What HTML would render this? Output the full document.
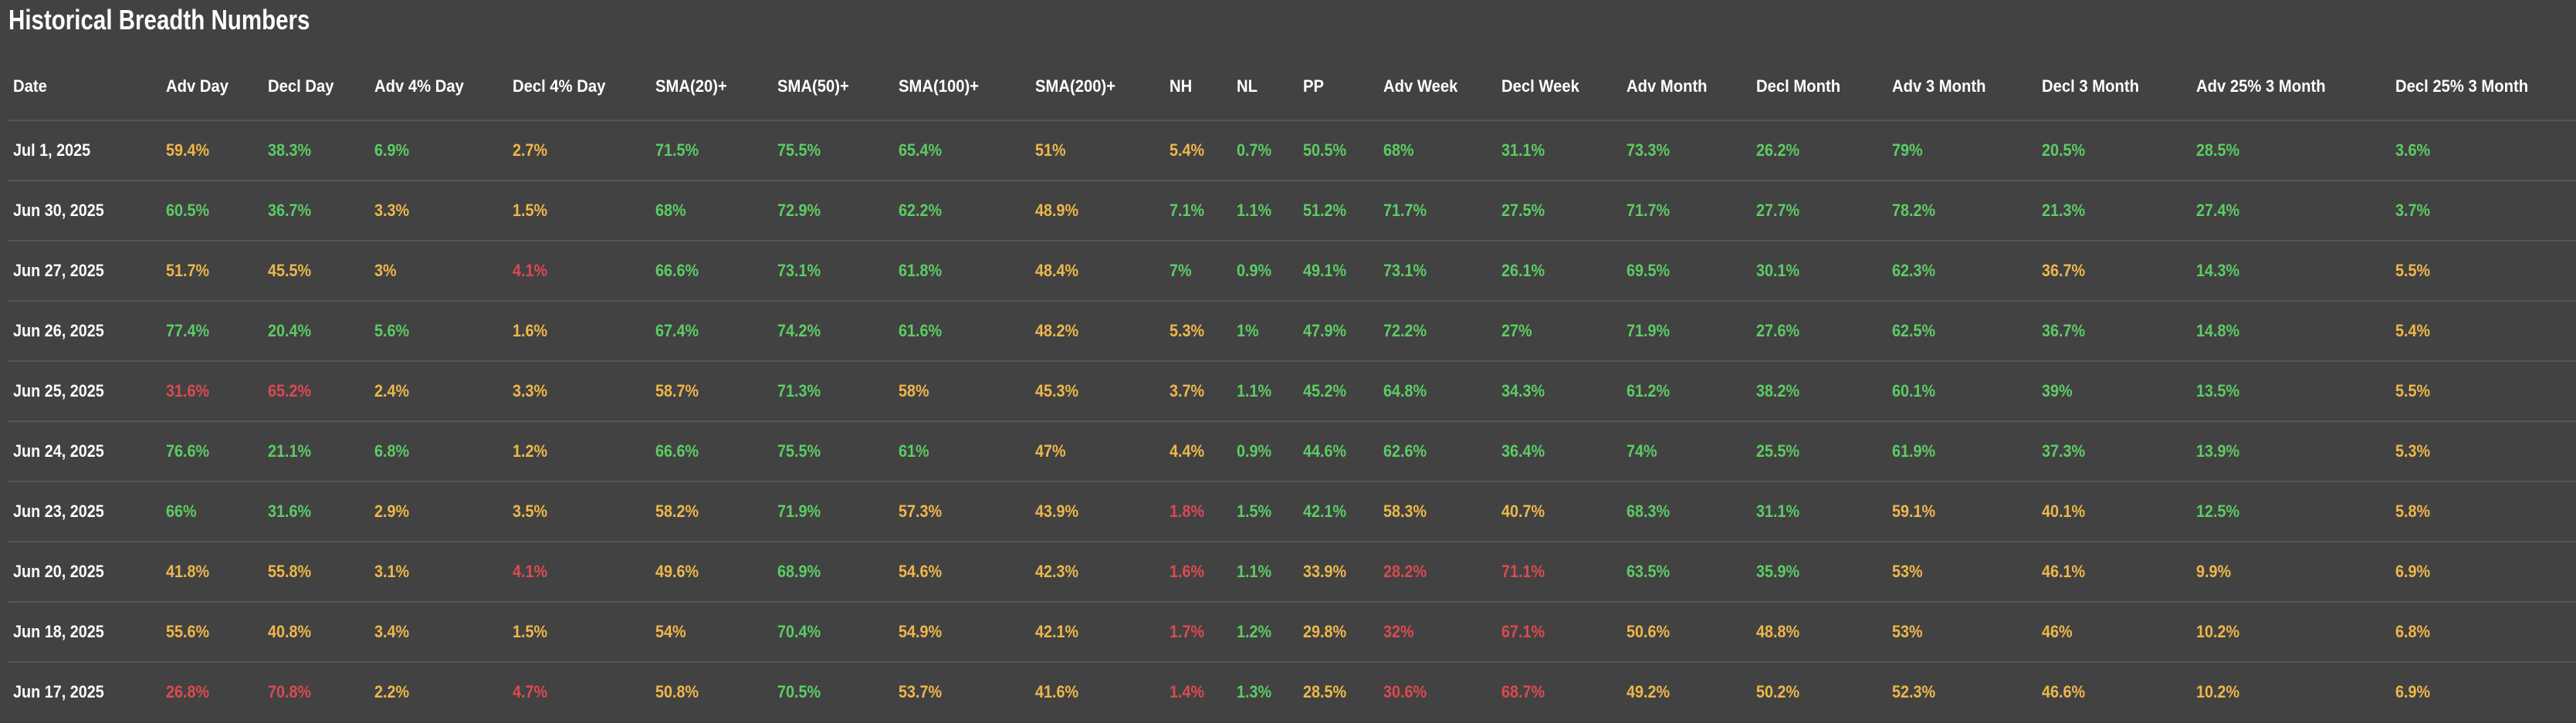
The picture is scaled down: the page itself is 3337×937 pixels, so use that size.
<!DOCTYPE html>
<html><head><meta charset="utf-8"><style>
body{margin:0;width:3337px;height:937px;background:#424242;overflow:hidden;font-family:"Liberation Sans Narrow","Liberation Sans",sans-serif;position:relative}
#title{position:absolute;left:11px;top:4px;font-size:36px;font-weight:bold;color:#fff;line-height:44px;transform:scaleX(0.82);transform-origin:left center;white-space:nowrap}
.h{position:absolute;top:99px;font-size:22px;font-weight:bold;color:#fff;line-height:26px;white-space:nowrap;transform:scaleX(0.92);transform-origin:left center}
.c{position:absolute;font-size:22px;font-weight:bold;line-height:26px;white-space:nowrap;transform:scaleX(0.9);transform-origin:left center}
.sep{position:absolute;left:10px;right:0;height:2px;background:#555}
</style></head><body>
<div id="title">Historical Breadth Numbers</div>
<div id="tbl"></div>
<script>
const headers=["Date","Adv Day","Decl Day","Adv 4% Day","Decl 4% Day","SMA(20)+","SMA(50)+","SMA(100)+","SMA(200)+","NH","NL","PP","Adv Week","Decl Week","Adv Month","Decl Month","Adv 3 Month","Decl 3 Month","Adv 25% 3 Month","Decl 25% 3 Month"];
const dates=["Jul 1, 2025","Jun 30, 2025","Jun 27, 2025","Jun 26, 2025","Jun 25, 2025","Jun 24, 2025","Jun 23, 2025","Jun 20, 2025","Jun 18, 2025","Jun 17, 2025"];
const values=[
["59.4","38.3","6.9","2.7","71.5","75.5","65.4","51","5.4","0.7","50.5","68","31.1","73.3","26.2","79","20.5","28.5","3.6"],
["60.5","36.7","3.3","1.5","68","72.9","62.2","48.9","7.1","1.1","51.2","71.7","27.5","71.7","27.7","78.2","21.3","27.4","3.7"],
["51.7","45.5","3","4.1","66.6","73.1","61.8","48.4","7","0.9","49.1","73.1","26.1","69.5","30.1","62.3","36.7","14.3","5.5"],
["77.4","20.4","5.6","1.6","67.4","74.2","61.6","48.2","5.3","1","47.9","72.2","27","71.9","27.6","62.5","36.7","14.8","5.4"],
["31.6","65.2","2.4","3.3","58.7","71.3","58","45.3","3.7","1.1","45.2","64.8","34.3","61.2","38.2","60.1","39","13.5","5.5"],
["76.6","21.1","6.8","1.2","66.6","75.5","61","47","4.4","0.9","44.6","62.6","36.4","74","25.5","61.9","37.3","13.9","5.3"],
["66","31.6","2.9","3.5","58.2","71.9","57.3","43.9","1.8","1.5","42.1","58.3","40.7","68.3","31.1","59.1","40.1","12.5","5.8"],
["41.8","55.8","3.1","4.1","49.6","68.9","54.6","42.3","1.6","1.1","33.9","28.2","71.1","63.5","35.9","53","46.1","9.9","6.9"],
["55.6","40.8","3.4","1.5","54","70.4","54.9","42.1","1.7","1.2","29.8","32","67.1","50.6","48.8","53","46","10.2","6.8"],
["26.8","70.8","2.2","4.7","50.8","70.5","53.7","41.6","1.4","1.3","28.5","30.6","68.7","49.2","50.2","52.3","46.6","10.2","6.9"]];
const tones=[
"YGGYGGGYYGGGGGGGGGG",
"GGYYGGGYGGGGGGGGGGG",
"YYYRGGGYGGGGGGGGYGY",
"GGGYGGGYYGGGGGGGGGY",
"RRYYYGYYYGGGGGGGGGY",
"GGGYGGGYYGGGGGGGGGY",
"GGYYYGYYRGGYYGGYYGY",
"YYYRYGYYRGYRRGGYYYY",
"YYYYYGYYRGYRRYYYYYY",
"RRYRYGYYRGYRRYYYYYY"];
const colX=[17,215,347,485,664,849,1007,1164,1341,1515,1602,1688,1792,1945,2107,2275,2451,2645,2845,3103];
const colors={G:"#5ccd64",Y:"#efb74a",R:"#dc4a50"};
const tbl=document.getElementById('tbl');
headers.forEach((h,i)=>{const d=document.createElement('div');d.className='h';d.style.left=colX[i]+'px';d.textContent=h;


tbl.appendChild(d);});
for(let r=0;r<10;r++){
 const top=155+r*78;
 const s=document.createElement('div');s.className='sep';s.style.top=top+'px';
 
 
 tbl.appendChild(s);
 const ty=top+27;
 const d=document.createElement('div');d.className='c';d.style.left=colX[0]+'px';d.style.top=ty+'px';d.style.color='#fff';d.textContent=dates[r];
 
 
 tbl.appendChild(d);
 values[r].forEach((v,j)=>{const c=document.createElement('div');c.className='c';c.style.left=colX[j+1]+'px';c.style.top=ty+'px';c.style.color=colors[tones[r][j]];c.textContent=v+'%';
 
 
 tbl.appendChild(c);});
}
</script>
</body></html>
